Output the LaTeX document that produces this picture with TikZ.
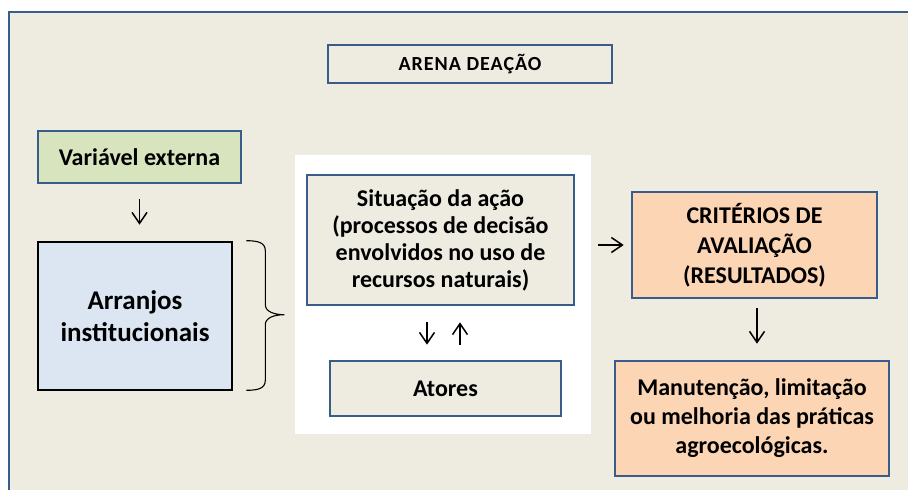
\documentclass[tikz,border=0pt]{standalone}
\usepackage{fontspec}
\setmainfont{Carlito}
\usetikzlibrary{arrows.meta,calc}
\definecolor{bord}{HTML}{385D8A}
\definecolor{tanbg}{HTML}{EEECE1}
\definecolor{grn}{HTML}{D7E4BD}
\definecolor{blu}{HTML}{DCE6F2}
\definecolor{org}{HTML}{FCD5B5}
\begin{document}
\begin{tikzpicture}[x=1pt,y=-1pt,
  box/.style={draw=bord,line width=2.6pt,fill=tanbg,inner sep=0pt,align=center},
  conn/.style={-{Straight Barb[length=11pt,width=15pt]},line width=1.5pt}]
\useasboundingbox (0,0) rectangle (908,490);
\clip (0,0) rectangle (908,490);
% outer frame
\draw[draw=bord,line width=2.6pt,fill=tanbg] (9,12) rectangle (940,520);
% white panel
\fill[white] (295,155) rectangle (591,434);
% boxes
\node[box,minimum width=284pt,minimum height=38pt,
  font=\fontsize{20}{24}\selectfont\bfseries\addfontfeature{LetterSpace=5}] (arena) at (470,64)
  {ARENA DEAÇÃO};
\node[box,fill=grn,minimum width=203pt,minimum height=52pt,
  font=\fontsize{24}{29}\selectfont\bfseries] (var) at (139.5,157)
  {Variável externa};
\node[box,draw=black,fill=blu,minimum width=194pt,minimum height=148pt,
  font=\fontsize{27}{32}\selectfont\bfseries] (arr) at (135,316)
  {Arranjos\\institucionais};
\node[box,minimum width=267pt,minimum height=130pt,
  font=\fontsize{24}{27}\selectfont\bfseries] (sit) at (440.5,240)
  {Situação da ação\\(processos de decisão\\envolvidos no uso de\\recursos naturais)};
\node[box,minimum width=231pt,minimum height=55pt,
  font=\fontsize{24}{29}\selectfont\bfseries] (atores) at (445.5,388.5)
  {Atores};
\node[box,fill=org,minimum width=245pt,minimum height=106pt,
  font=\fontsize{24}{30}\selectfont\bfseries] (crit) at (754.5,245)
  {CRITÉRIOS DE\\AVALIAÇÃO\\(RESULTADOS)};
\node[box,fill=org,minimum width=274pt,minimum height=115pt,
  font=\fontsize{24}{29}\selectfont\bfseries] (man) at (752,418.5)
  {Manutenção, limitação\\ou melhoria das práticas\\agroecológicas.};
% connector anchors
\coordinate (d1a) at ($(sit.south)+(-13.5,0)$);
\coordinate (d1b) at (d1a |- atores.north);
\coordinate (u1a) at ($(atores.north)+(14.5,0)$);
\coordinate (u1b) at (u1a |- sit.south);
\coordinate (r1a) at (sit.east |- crit.west);
\coordinate (d2a) at ($(crit.south)+(2.5,0)$);
\coordinate (d2b) at (d2a |- man.north);
\coordinate (d0b) at (var.south |- arr.north);
% connectors
\draw[conn,shorten <=15pt,shorten >=16pt] (var.south) -- (d0b);
\draw[conn,shorten <=16pt,shorten >=15pt] (d1a) -- (d1b);
\draw[conn,shorten <=15pt,shorten >=16pt] (u1a) -- (u1b);
\draw[conn,shorten <=23pt,shorten >=7pt] (r1a) -- (crit.west);
\draw[conn,shorten <=9pt,shorten >=16pt] (d2a) -- (d2b);
% brace
\coordinate (bt) at ($(arr.north east)+(13,0)$);
\coordinate (bb) at ($(arr.south east)+(13,-1)$);
\draw[line width=1.1pt]
  (bt) .. controls ($(bt)+(12,0)$) and ($(bt)+(19,2)$) .. ($(bt)+(19,10)$)
  -- ($(bt)+(19,64)$) .. controls ($(bt)+(19,71)$) and ($(bt)+(28,74)$) .. ($(bt)+(38,74)$)
  .. controls ($(bt)+(28,74)$) and ($(bt)+(19,77)$) .. ($(bt)+(19,84)$)
  -- ($(bb)+(19,-10)$) .. controls ($(bb)+(19,-2)$) and ($(bb)+(12,0)$) .. (bb);
\end{tikzpicture}
\end{document}
